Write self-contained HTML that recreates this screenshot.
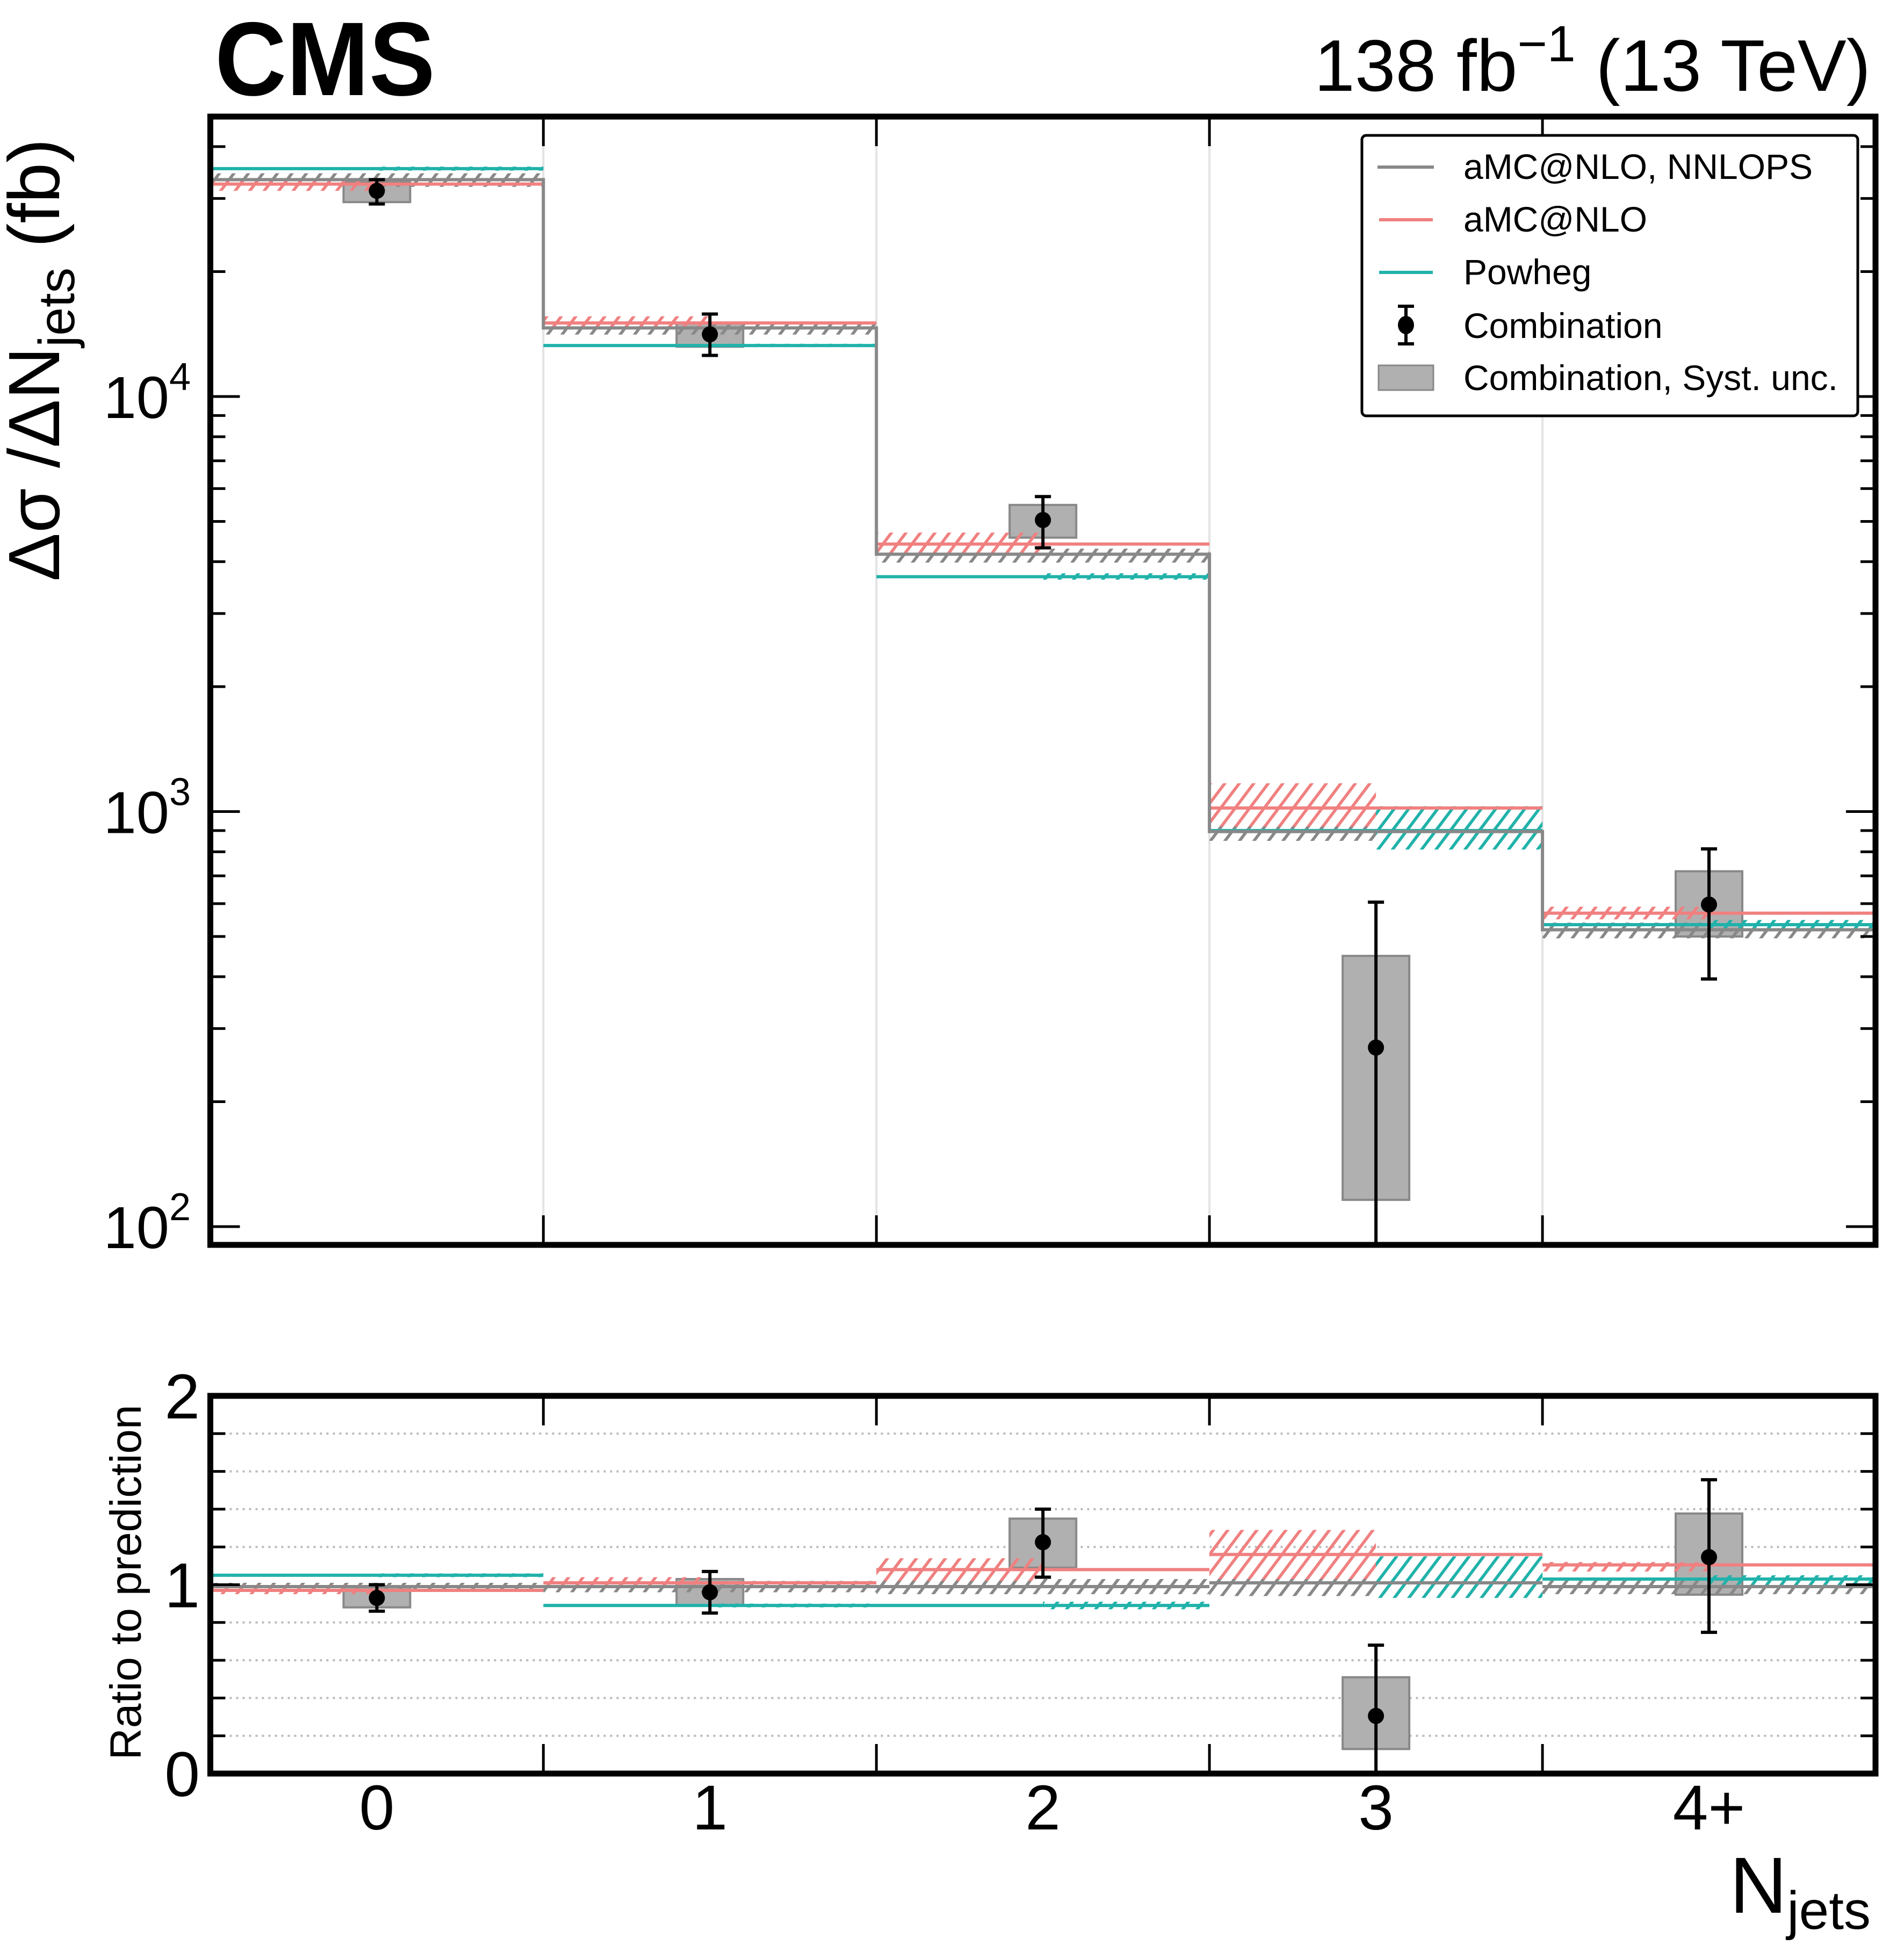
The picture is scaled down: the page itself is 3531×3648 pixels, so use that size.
<!DOCTYPE html>
<html><head><meta charset="utf-8">
<style>html,body{margin:0;padding:0;background:#fff}svg{display:block}text{font-family:"Liberation Sans",sans-serif}</style>
</head><body>
<svg id="chart" xmlns="http://www.w3.org/2000/svg" width="3531" height="3648" viewBox="0 0 3531 3648">
<defs>
<pattern id="hatch-gray" patternUnits="userSpaceOnUse" width="27" height="36" patternTransform="skewX(-37)"><rect x="0" y="0" width="7" height="36" fill="#888"/></pattern>
<pattern id="hatch-red" patternUnits="userSpaceOnUse" width="27" height="36" patternTransform="skewX(-37)"><rect x="0" y="0" width="7" height="36" fill="#f08080"/></pattern>
<pattern id="hatch-teal" patternUnits="userSpaceOnUse" width="27" height="36" patternTransform="skewX(-37)"><rect x="0" y="0" width="7" height="36" fill="#20b2aa"/></pattern>
</defs>
<g id="main-layer"></g>
<g id="ratio-layer"></g>
<g id="axes-layer"></g>
<text x="400" y="177" font-size="195" font-weight="bold" textLength="410" lengthAdjust="spacingAndGlyphs">CMS</text>
<text x="3482" y="169" font-size="136" text-anchor="end">138 fb<tspan font-size="95" dy="-55">−1</tspan><tspan dy="55"> (13 TeV)</tspan></text>
<text transform="translate(110,670) rotate(-90)" font-size="135" text-anchor="middle">Δσ /ΔN<tspan font-size="95" dy="28">jets</tspan><tspan dy="-28"> (fb)</tspan></text>
<text transform="translate(262,2945) rotate(-90)" font-size="82" text-anchor="middle">Ratio to prediction</text>
<text x="3482" y="3560" font-size="148" text-anchor="end">N<tspan font-size="100" dy="30">jets</tspan></text>
<g>
<rect x="2535" y="252" width="923" height="522" rx="8" fill="#fff" stroke="#000" stroke-width="5"/>
<line x1="2564" y1="311" x2="2669" y2="311" stroke="#888" stroke-width="6"/>
<text x="2724" y="333" font-size="66">aMC@NLO, NNLOPS</text>
<line x1="2567" y1="409" x2="2667" y2="409" stroke="#f08080" stroke-width="6"/>
<text x="2724" y="431" font-size="66">aMC@NLO</text>
<line x1="2567" y1="507" x2="2667" y2="507" stroke="#20b2aa" stroke-width="6"/>
<text x="2724" y="529" font-size="66">Powheg</text>
<g><line x1="2617" y1="570" x2="2617" y2="640" stroke="#000" stroke-width="6"/><line x1="2602" y1="570" x2="2632" y2="570" stroke="#000" stroke-width="6"/><line x1="2602" y1="640" x2="2632" y2="640" stroke="#000" stroke-width="6"/><ellipse cx="2617" cy="605" rx="15" ry="17"/></g>
<text x="2724" y="629" font-size="66">Combination</text>
<rect x="2566" y="680" width="102" height="46" fill="#b0b0b0" stroke="#888" stroke-width="3"/>
<text x="2724" y="726" font-size="66">Combination, Syst. unc.</text>
</g>
</svg>
<script>
// ---- data ----
const categories = ["0","1","2","3","4+"];
const nnlopsVal = [33300,14630,4170,895,519];
const nnlopsLo  = [32000,14100,3980,850,495];
const nnlopsHi  = [34500,15100,4300,930,540];
const amcVal = [32500,15040,4410,1020,569];
const amcLo  = [31300,14600,4170,920,550];
const amcHi  = [33600,15600,4700,1170,590];
const powhegVal = [35400,13270,3680,900,534];
const powhegLo  = [35000,13150,3620,810,520];
const powhegHi  = [35800,13400,3750,1030,548];
const combVal = [31300,14120,5040,270,597];
const combErrHi = [33300,15800,5740,605,813];
const combErrLo = [29100,12560,4320,80,395];
const systHi = [32800,15000,5480,449,718];
const systLo = [29400,13180,4570,116,500];
// ratio panel
const rNnlops = [0.99,0.99,0.99,1.01,0.99];
const rNnlopsLo = [0.97,0.96,0.95,0.94,0.95];
const rNnlopsHi = [1.01,1.02,1.03,1.05,1.03];
const rAmc = [0.97,1.01,1.08,1.16,1.105];
const rAmcLo = [0.95,0.99,1.02,1.03,1.07];
const rAmcHi = [1.0,1.04,1.14,1.29,1.12];
const rPowheg = [1.05,0.89,0.89,1.01,1.03];
const rPowhegLo = [1.04,0.88,0.87,0.93,1.0];
const rPowhegHi = [1.06,0.90,0.91,1.15,1.05];
const rComb = [0.93,0.96,1.225,0.305,1.146];
const rCombHi = [1.0,1.07,1.40,0.68,1.556];
const rCombLo = [0.86,0.85,1.04,-0.1,0.748];
const rSystHi = [0.99,1.03,1.35,0.51,1.377];
const rSystLo = [0.88,0.89,1.09,0.13,0.947];
const yMajor = [2,3,4];
const ratioTicks = [0,1,2];

// ---- geometry ----
const X0=391.5, X1=3491, MT=217, MB=2317, RT=2598, RB=3301;
const bw=(X1-X0)/categories.length;
const xEdge=i=>X0+i*bw;
const xC=i=>X0+(i+0.5)*bw;
const Y4=738, DEC=772.5;
const yLog=v=>Y4-(Math.log10(v)-4)*DEC;
const yR=v=>RB-(v/2)*(RB-RT);
const NS="http://www.w3.org/2000/svg";
function mk(parent,tag,attrs){const e=document.createElementNS(NS,tag);for(const k in attrs)e.setAttribute(k,attrs[k]);parent.appendChild(e);return e;}
const main=document.getElementById('main-layer');
const ratio=document.getElementById('ratio-layer');
const axes=document.getElementById('axes-layer');

const defs=document.querySelector('defs');
const cp1=mk(defs,'clipPath',{id:'clipMain'});mk(cp1,'rect',{x:X0,y:MT,width:X1-X0,height:MB-MT});
const cp2=mk(defs,'clipPath',{id:'clipRatio'});mk(cp2,'rect',{x:X0,y:RT,width:X1-X0,height:RB-RT});
main.setAttribute('clip-path','url(#clipMain)');
ratio.setAttribute('clip-path','url(#clipRatio)');

for(let i=1;i<categories.length;i++){
  const g=mk(main,'line',{x1:xEdge(i),x2:xEdge(i),y1:MT,y2:MB,stroke:'#e3e3e3','stroke-width':4});
  
  
}
for(let v=0.2;v<2;v+=0.2){
  if(Math.abs(v-1)<0.01)continue;
  const g=mk(ratio,'line',{x1:X0,x2:X1,y1:yR(v),y2:yR(v),stroke:'#bbb','stroke-width':4,'stroke-dasharray':'4 8'});
  
  
}

function drawPanel(layer,yf,vals,los,his,cVal,cHi,cLo,sHi,sLo,stepConnect){
  const series=[
    {v:vals[0],lo:los[0],hi:his[0],c:'#888',p:'hatch-gray',half:0,name:'nnlops'},
    {v:vals[1],lo:los[1],hi:his[1],c:'#f08080',p:'hatch-red',half:1,name:'amcnlo'},
    {v:vals[2],lo:los[2],hi:his[2],c:'#20b2aa',p:'hatch-teal',half:2,name:'powheg'}];
  for(let i=0;i<categories.length;i++){
    const y1=yf(sHi[i]),y2=yf(sLo[i]);
    const r=mk(layer,'rect',{x:xC(i)-62,y:y1,width:124,height:y2-y1,fill:'#b0b0b0',stroke:'#888','stroke-width':4});
    
    
  }
  series.forEach(s=>{
    for(let i=0;i<categories.length;i++){
      let xa=xEdge(i),xb=xEdge(i+1);
      if(s.half===1)xb=xC(i);
      if(s.half===2)xa=xC(i);
      const y1=yf(s.hi[i]),y2=yf(s.lo[i]);
      const b=mk(layer,'rect',{x:xa,y:y1,width:xb-xa,height:Math.max(2,y2-y1),fill:'url(#'+s.p+')'});
      
      
    }
  });
  [series[2],series[1],series[0]].forEach(s=>{
    let d='';
    for(let i=0;i<categories.length;i++){
      const y=yf(s.v[i]);
      if(s.name==='nnlops'&&stepConnect){d+=(i===0?'M':'L')+xEdge(i)+','+y+'L'+xEdge(i+1)+','+y;}
      else d+='M'+xEdge(i)+','+y+'L'+xEdge(i+1)+','+y;
    }
    const p=mk(layer,'path',{d:d,fill:'none',stroke:s.c,'stroke-width':6});
    
    
  });
  for(let i=0;i<categories.length;i++){
    const g=mk(layer,'g',{});
    
    
    const ya=yf(cHi[i]),yb=yf(cLo[i]);
    mk(g,'line',{x1:xC(i),x2:xC(i),y1:ya,y2:yb,stroke:'#000','stroke-width':6});
    mk(g,'line',{x1:xC(i)-15,x2:xC(i)+15,y1:ya,y2:ya,stroke:'#000','stroke-width':6});
    mk(g,'line',{x1:xC(i)-15,x2:xC(i)+15,y1:yb,y2:yb,stroke:'#000','stroke-width':6});
    mk(g,'circle',{cx:xC(i),cy:yf(cVal[i]),r:15,fill:'#000'});
  }
}
drawPanel(main,yLog,[nnlopsVal,amcVal,powhegVal],[nnlopsLo,amcLo,powhegLo],[nnlopsHi,amcHi,powhegHi],combVal,combErrHi,combErrLo,systHi,systLo,true);
drawPanel(ratio,yR,[rNnlops,rAmc,rPowheg],[rNnlopsLo,rAmcLo,rPowhegLo],[rNnlopsHi,rAmcHi,rPowhegHi],rComb,rCombHi,rCombLo,rSystHi,rSystLo,false);

function tick(x1,y1,x2,y2,name){const t=mk(axes,'line',{x1:x1,y1:y1,x2:x2,y2:y2,stroke:'#000','stroke-width':5});
  
  }
for(let e=1;e<=4;e++){
  for(let m=1;m<10;m++){
    const v=m*Math.pow(10,e);const y=yLog(v);
    if(y<MT||y>MB)continue;
    const L=m===1?55:28;
    tick(X0,y,X0+L,y,'y-tick');tick(X1-L,y,X1,y,'y-tick');
  }
}
yMajor.forEach(e=>{
  const y=yLog(Math.pow(10,e));
  const t=mk(axes,'text',{x:355,y:y+40,'font-size':110,'text-anchor':'end'});
  
  
  t.textContent='10';
  const s=mk(t,'tspan',{'font-size':72,dy:-52});s.textContent=String(e);
});
for(let k=1;k<10;k++){const v=k*0.2;if(Math.abs(v-1)<0.01)continue;const y=yR(v);tick(X0,y,X0+28,y,'ratio-tick');tick(X1-28,y,X1,y,'ratio-tick');}
ratioTicks.forEach(v=>{
  const y=yR(v);tick(X0,y,X0+55,y,'ratio-tick');tick(X1-55,y,X1,y,'ratio-tick');
  const t=mk(axes,'text',{x:372,y:y+42,'font-size':118,'text-anchor':'end'});
  
  
  t.textContent=String(v);
});
for(let i=1;i<categories.length;i++){
  const x=xEdge(i);
  tick(x,MT,x,MT+55,'x-tick');tick(x,MB-55,x,MB,'x-tick');
  tick(x,RT,x,RT+55,'x-tick');tick(x,RB-55,x,RB,'x-tick');
}
categories.forEach((c,i)=>{
  const t=mk(axes,'text',{x:xC(i),y:3405,'font-size':118,'text-anchor':'middle'});
  
  
  t.textContent=c;
});
const f1=mk(axes,'rect',{x:X0,y:MT,width:X1-X0,height:MB-MT,fill:'none',stroke:'#000','stroke-width':11});


const f2=mk(axes,'rect',{x:X0,y:RT,width:X1-X0,height:RB-RT,fill:'none',stroke:'#000','stroke-width':11});


</script>
</body></html>
